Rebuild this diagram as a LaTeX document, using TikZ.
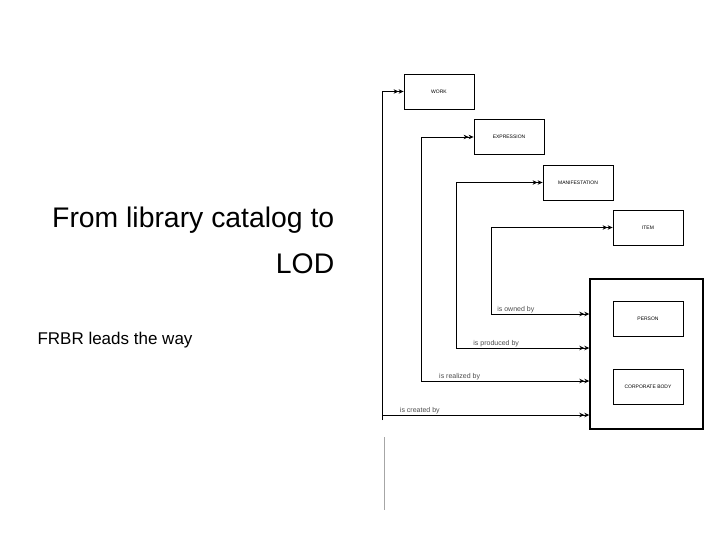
\documentclass[tikz,border=0pt]{standalone}
\usepackage{fontspec}
\setmainfont{Liberation Sans}
\usetikzlibrary{arrows.meta}
\begin{document}
\begin{tikzpicture}[x=1pt,y=-1pt,
  ent/.style={draw,line width=0.8pt,minimum width=70pt,minimum height=35pt,inner sep=0pt,font=\fontsize{5}{6}\selectfont},
  rel/.style={line width=0.8pt,-{Stealth[length=5pt,width=4.5pt]Stealth[length=5pt,width=4.5pt]}},
  lab/.style={font=\fontsize{7}{8}\selectfont,anchor=south west,inner sep=1pt,text=black!70}]
\useasboundingbox (0,0) rectangle (720,540);
\node[anchor=east,align=right,font=\fontsize{21}{34}\selectfont,scale=1.35] (title) at (339,240) {From library catalog to\\LOD};
\node[anchor=west,font=\fontsize{17}{20}\selectfont] (sub) at (34,340) {FRBR leads the way};
\node[ent] (work) at (439,91.5) {WORK};
\node[ent] (expr) at (509,137) {EXPRESSION};
\node[ent] (manif) at (578,182.5) {MANIFESTATION};
\node[ent] (item) at (648,227.5) {ITEM};
\node[draw,line width=1.4pt,minimum width=113pt,minimum height=150pt,inner sep=0pt] (grp) at (646.5,354) {};
\node[ent] (person) at (648,318.5) {PERSON};
\node[ent] (corp) at (648,386.5) {CORPORATE BODY};
\coordinate (a1) at (382,420); \coordinate (a2) at (382,415);
\coordinate (b1) at (421,381); \coordinate (c1) at (456,348); \coordinate (d1) at (491,314);
\draw[rel] (a1) |- (work.west);
\draw[rel] (b1) |- (expr.west);
\draw[rel] (c1) |- (manif.west);
\draw[rel] (d1) |- (item.west);
\draw[rel] (d1) -- (d1 -| grp.west) node[lab,pos=0.05] {is owned by};
\draw[rel] (c1) -- (c1 -| grp.west) node[lab,pos=0.12] {is produced by};
\draw[rel] (b1) -- (b1 -| grp.west) node[lab,pos=0.1] {is realized by};
\draw[rel] (a2) -- (a2 -| grp.west) node[lab,pos=0.08] {is created by};
\coordinate (g1) at (384,437); \coordinate (g2) at (384,510);
\draw[gray!70,line width=0.8pt] (g1) -- (g2);
\end{tikzpicture}
\end{document}
